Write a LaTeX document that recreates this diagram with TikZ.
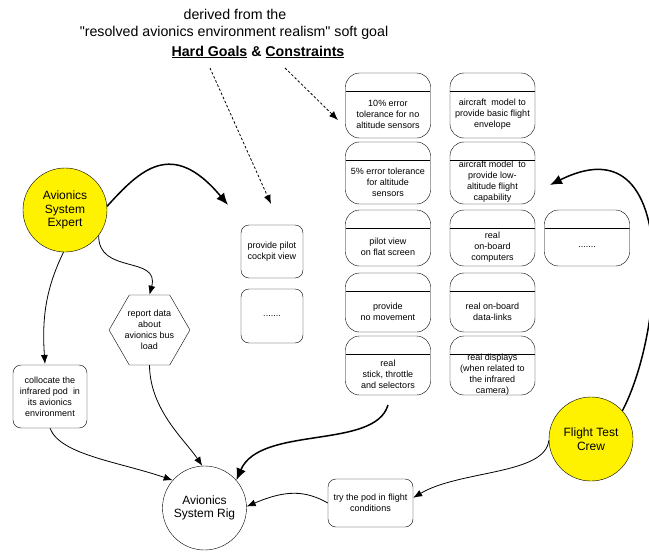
\documentclass[tikz,border=0pt]{standalone}
\usepackage{fontspec}
\setmainfont{Liberation Sans}[Ligatures=TeXOff]
\usetikzlibrary{shapes.geometric}
\usetikzlibrary{arrows.meta}
\tikzset{
    actor/.style={shape=circle, draw=black, fill=yellow, minimum size=84pt, inner sep=0pt,
        align=center, font=\fontsize{12}{13.5}\selectfont},
    task/.style={shape=rectangle, draw=black, rounded corners=8pt, inner sep=1pt,
        align=center, font=\fontsize{9}{11}\selectfont},
    resource/.style={shape=regular polygon, regular polygon sides=6, draw=black,
        minimum size=71pt, inner sep=0pt, align=center, font=\fontsize{9}{11}\selectfont},
    cbox/.style={shape=rectangle, draw=black, rounded corners=14pt, minimum width=85pt,
        path picture={\draw ([yshift=-18pt]path picture bounding box.north west)
            -- ([yshift=-18pt]path picture bounding box.north east);}},
    ctext/.style={align=center, inner sep=0pt, yshift=-9pt, font=\fontsize{9}{11}\selectfont},
    title/.style={font=\fontsize{14.2}{17}\selectfont},
    thin link/.style={line width=0.8pt, -{Latex[length=9pt,width=7pt]}},
    thick link/.style={line width=1.5pt, -{Latex[length=12pt,width=10pt]}},
    derives/.style={line width=0.8pt, dash pattern=on 2.5pt off 2pt, -{Latex[length=9pt,width=7pt]}}}

\begin{document}
\begin{tikzpicture}[x=1pt, y=-1pt]

    \useasboundingbox (0,0) rectangle (649,552);

    % heading
    \node[title] (derived) at (235,14) {derived from the};
    \node[title] (softgoal) at (234,33) {"resolved avionics environment realism" soft goal};
    \node[title, font=\fontsize{14.2}{17}\selectfont\bfseries] (hardgoals) at (258,52)
        {\underline{Hard Goals} \& \underline{Constraints}};

    % actors
    \node[actor] (expert) at (65,210) {Avionics\\System\\Expert};
    \node[actor] (crew) at (591,439) {Flight Test\\Crew};
    \node[actor, fill=white] (rig) at (204.5,508) {Avionics\\System Rig};

    % tasks
    \node[task, minimum width=62pt, minimum height=53pt] (cockpit) at (272,251.5) {provide pilot\\cockpit view};
    \node[task, minimum width=62pt, minimum height=54pt] (moretasks) at (272,316) {.......};
    \node[resource] (busload) at (149.5,330) {report data\\about\\avionics bus\\load};
    \node[task, minimum width=74pt, minimum height=63pt] (collocate) at (50,396.5)
        {collocate the\\infrared pod\ \ in\\its avionics\\environment};
    \node[task, minimum width=85pt, minimum height=48pt] (trypod) at (370.5,503)
        {try the pod in flight\\conditions};

    % hard goals and constraints
    \node[cbox, minimum height=65pt, label={[ctext]center:{10\% error\\tolerance for no\\altitude sensors}}] (c11) at (388,105.5) {};
    \node[cbox, minimum height=65pt, label={[ctext]center:{aircraft\ \ model to\\provide basic flight\\envelope}}] (c12) at (492.5,105.5) {};
    \node[cbox, minimum height=62pt, label={[ctext]center:{5\% error tolerance\\for altitude\\sensors}}] (c21) at (388,173) {};
    \node[cbox, minimum height=62pt, label={[ctext]center:{aircraft model\ \ to\\provide low-\\altitude flight\\capability}}] (c22) at (492.5,173) {};
    \node[cbox, minimum height=56pt, label={[ctext]center:{pilot view\\on flat screen}}] (c31) at (388,238) {};
    \node[cbox, minimum height=56pt, label={[ctext]center:{real\\on-board\\computers}}] (c32) at (492.5,238) {};
    \node[cbox, minimum height=56pt, label={[ctext]center:{.......}}] (c33) at (587,238) {};
    \node[cbox, minimum height=59pt, label={[ctext]center:{provide\\no movement}}] (c41) at (388,302.5) {};
    \node[cbox, minimum height=59pt, label={[ctext]center:{real on-board\\data-links}}] (c42) at (492.5,302.5) {};
    \node[cbox, minimum height=59pt, label={[ctext]center:{real\\stick, throttle\\and selectors}}] (c51) at (388,365.5) {};
    \node[cbox, minimum height=59pt, label={[ctext]center:{real displays\\(when related to\\the infrared\\camera)}}] (c52) at (492.5,365.5) {};

    % free ends
    \coordinate (expertend) at (228,205);
    \coordinate (stickstart) at (388,405);
    \coordinate (crewend) at (550,185);
    \coordinate (dashAstart) at (210,68);
    \coordinate (dashAend) at (271,204);
    \coordinate (dashBstart) at (285,68);
    \coordinate (dashBend) at (338,120);

    % derived from the soft goal
    \draw[derives] (dashAstart) -- (dashAend);
    \draw[derives] (dashBstart) -- (dashBend);

    % links
    \draw[thick link] (expert.5) .. controls (140,170) and (172,138) .. (expertend);
    \draw[thin link] (expert.-37) .. controls (98,275) and (160,255) .. (busload.north);
    \draw[thin link] (expert.-92) .. controls (45,290) and (42,320) .. (45,364);
    \draw[thin link] (collocate.south) .. controls (60,455) and (120,462) .. (rig.139);
    \draw[thin link] (busload.south) .. controls (150,410) and (185,440) .. (rig.93);
    \draw[thick link] (stickstart) .. controls (375,450) and (260,425) .. (rig.41);
    \draw[thin link] (trypod.west) .. controls (305,490) and (285,490) .. (rig.2);
    \draw[thin link] (crew.182) .. controls (545,475) and (460,470) .. (trypod.7);
    \draw[thick link] (crew.42) .. controls (665,330) and (680,120) .. (crewend);

\end{tikzpicture}
\end{document}
